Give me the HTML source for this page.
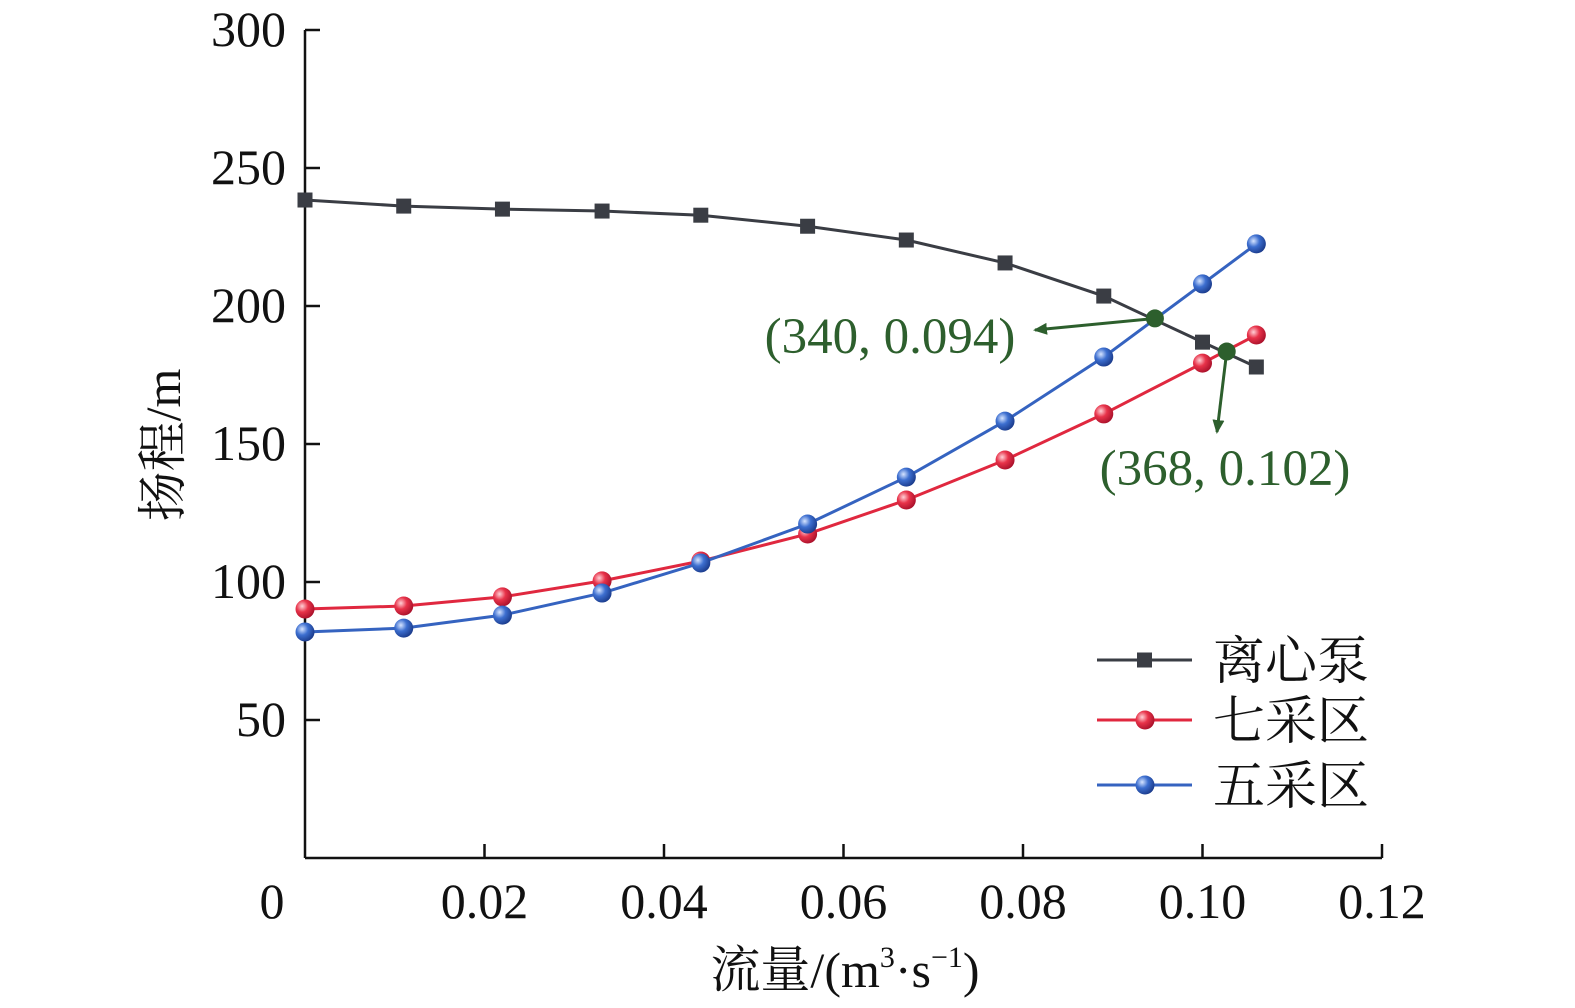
<!DOCTYPE html>
<html><head><meta charset="utf-8">
<style>
html,body{margin:0;padding:0;background:#fff;}
svg{display:block;font-family:"Liberation Serif","Noto Serif CJK SC",serif;}
</style></head>
<body>
<svg id="chart" width="1575" height="1008" viewBox="0 0 1575 1008" xmlns="http://www.w3.org/2000/svg">
<defs>
<radialGradient id="gRed" cx="35%" cy="35%" r="70%"><stop offset="0" stop-color="#ffd0d6"/><stop offset="0.45" stop-color="#e8334a"/><stop offset="1" stop-color="#a8102a"/></radialGradient>
<radialGradient id="gBlue" cx="35%" cy="35%" r="70%"><stop offset="0" stop-color="#d6e4ff"/><stop offset="0.45" stop-color="#3d6fd0"/><stop offset="1" stop-color="#1a3a8a"/></radialGradient>
<marker id="arr" markerWidth="14" markerHeight="12" refX="12" refY="6" orient="auto" markerUnits="userSpaceOnUse"><path d="M0,0 L14,6 L0,12 Z" fill="#2d5f2d"/></marker>
</defs>
<g id="axes"></g>
<g id="series"></g>
<g id="annot"></g>
<g id="legend"></g>
</svg>
<script>
const xValues = [0, 0.011, 0.022, 0.0331, 0.0441, 0.056, 0.067, 0.078, 0.089, 0.100, 0.106];
const pumpHead = [238.4, 236.2, 235.1, 234.4, 232.9, 228.9, 223.9, 215.6, 203.6, 186.9, 177.9];
const zone7Head = [90.2, 91.3, 94.6, 100.4, 107.6, 117.4, 129.7, 144.2, 160.9, 179.3, 189.5];
const zone5Head = [81.9, 83.3, 88.0, 96.0, 106.9, 121.0, 138.0, 158.3, 181.5, 208.0, 222.5];
const xTicks = [0, 0.02, 0.04, 0.06, 0.08, 0.10, 0.12];
const xTickLabels = ["0", "0.02", "0.04", "0.06", "0.08", "0.10", "0.12"];
const yTicks = [50, 100, 150, 200, 250, 300];
const yTickLabels = ["50", "100", "150", "200", "250", "300"];
const opPointX = [0.0947, 0.1027];
const opPointY = [195.5, 183.5];
const opLabels = ["(340, 0.094)", "(368, 0.102)"];

const NS = "http://www.w3.org/2000/svg";
const X0 = 305, X1 = 1382, Y0 = 858, Y1 = 30;
const sx = v => X0 + v / 0.12 * (X1 - X0);
const sy = v => Y0 - v / 300 * (Y0 - Y1);
function mk(tag, attrs, parent, text) {
  const e = document.createElementNS(NS, tag);
  for (const k in attrs) e.setAttribute(k, attrs[k]);
  if (text !== undefined) e.textContent = text;
  parent.appendChild(e);
  return e;
}
const axes = document.getElementById('axes');
let e;
e = mk('line', {x1: X0, y1: Y1, x2: X0, y2: Y0, stroke: '#111', 'stroke-width': 2.5}, axes);


e = mk('line', {x1: X0, y1: Y0, x2: X1, y2: Y0, stroke: '#111', 'stroke-width': 2.5}, axes);


xTicks.forEach((t, i) => {
  if (i > 0) {
    const tk = mk('line', {x1: sx(t), y1: Y0, x2: sx(t), y2: Y0 - 14, stroke: '#111', 'stroke-width': 2.5}, axes);
    
    
  }
  const lb = mk('text', {x: i === 0 ? 272 : sx(t), y: 918, 'font-size': 50, 'text-anchor': 'middle', fill: '#111'}, axes, xTickLabels[i]);
  
  
});
yTicks.forEach((t, i) => {
  const tk = mk('line', {x1: X0, y1: sy(t), x2: X0 + 15, y2: sy(t), stroke: '#111', 'stroke-width': 2.5}, axes);
  
  
  const lb = mk('text', {x: 286, y: sy(t) + 16, 'font-size': 50, 'text-anchor': 'end', fill: '#111'}, axes, yTickLabels[i]);
  
  
});
e = mk('text', {x: 845, y: 987, 'font-size': 50, 'text-anchor': 'middle', fill: '#111'}, axes);
e.innerHTML = '流量/(m<tspan font-size="30" dy="-20">3</tspan><tspan dy="20">·s</tspan><tspan font-size="30" dy="-20">−1</tspan><tspan dy="20">)</tspan>';


e = mk('text', {x: 0, y: 0, 'font-size': 50, 'text-anchor': 'middle', fill: '#111', transform: 'translate(180,445) rotate(-90)'}, axes, '扬程/m');



const ser = document.getElementById('series');
function drawSeries(vals, color, kind, name) {
  const g = mk('g', {}, ser);
  
  
  const pts = xValues.map((x, i) => sx(x) + ',' + sy(vals[i])).join(' ');
  mk('polyline', {points: pts, fill: 'none', stroke: color, 'stroke-width': 3}, g);
  xValues.forEach((x, i) => {
    let m;
    if (kind === 'square') m = mk('rect', {x: sx(x) - 7.5, y: sy(vals[i]) - 7.5, width: 15, height: 15, fill: '#3a3d44'}, g);
    else m = mk('circle', {cx: sx(x), cy: sy(vals[i]), r: 9.5, fill: kind}, g);
    
    
  });
}
drawSeries(pumpHead, '#3a3d44', 'square', 'series-centrifugal-pump');
drawSeries(zone7Head, '#e0283f', 'url(#gRed)', 'series-zone-7');
drawSeries(zone5Head, '#3563c0', 'url(#gBlue)', 'series-zone-5');

const an = document.getElementById('annot');
const arrowEnds = [[1035, 330], [1217, 432]];
const labelPos = [[890, 353], [1225, 485]];
opPointX.forEach((x, i) => {
  const px = sx(x), py = sy(opPointY[i]);
  const ar = mk('line', {x1: px, y1: py, x2: arrowEnds[i][0], y2: arrowEnds[i][1], stroke: '#2d5f2d', 'stroke-width': 3, 'marker-end': 'url(#arr)'}, an);
  
  
  const c = mk('circle', {cx: px, cy: py, r: 9, fill: '#2d5f2d'}, an);
  
  
  const t = mk('text', {x: labelPos[i][0], y: labelPos[i][1], 'font-size': 51, 'text-anchor': 'middle', fill: '#2d5f2d'}, an, opLabels[i]);
  
  
});

const lg = document.getElementById('legend');
const legNames = ['离心泵', '七采区', '五采区'];
const legColors = ['#3a3d44', '#e0283f', '#3563c0'];
const legFills = ['square', 'url(#gRed)', 'url(#gBlue)'];
const legY = [660, 720, 785];
legNames.forEach((n, i) => {
  const g = mk('g', {}, lg);
  
  
  mk('line', {x1: 1097, y1: legY[i], x2: 1192, y2: legY[i], stroke: legColors[i], 'stroke-width': 3}, g);
  if (legFills[i] === 'square') mk('rect', {x: 1137, y: legY[i] - 7.5, width: 15, height: 15, fill: '#3a3d44'}, g);
  else mk('circle', {cx: 1145, cy: legY[i], r: 9.5, fill: legFills[i]}, g);
  mk('text', {x: 1213, y: legY[i] + 19, 'font-size': 52, fill: '#111'}, g, n);
});
</script>
</body></html>
